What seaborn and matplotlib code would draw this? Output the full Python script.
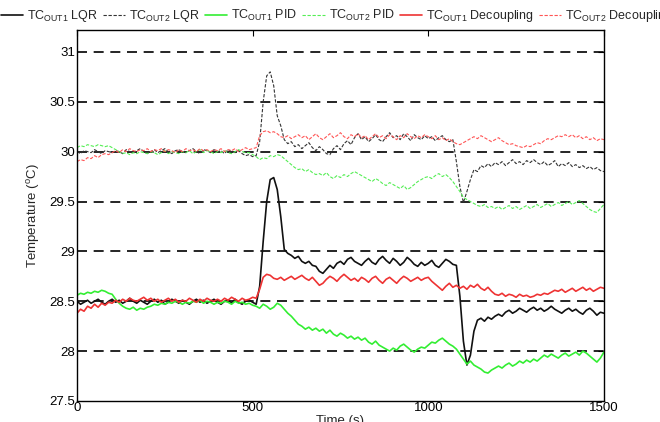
import numpy as np
import pandas as pd
import matplotlib
matplotlib.use("Agg")
import matplotlib.pyplot as plt
import seaborn as sns

time_s = list(range(0, 1501, 10))

tc1_lqr = [
    28.50, 28.47, 28.49, 28.51, 28.48, 28.50, 28.52, 28.49, 28.47, 28.50,
    28.52, 28.49, 28.51, 28.48, 28.50, 28.53, 28.50, 28.48, 28.51, 28.49,
    28.47, 28.50, 28.52, 28.49, 28.51, 28.47, 28.49, 28.52, 28.50, 28.48,
    28.51, 28.49, 28.47, 28.50, 28.52, 28.49, 28.51, 28.48, 28.50, 28.52,
    28.49, 28.47, 28.50, 28.51, 28.48, 28.52, 28.49, 28.47, 28.50, 28.51,
    28.49, 28.47, 28.65, 29.10, 29.50, 29.72, 29.74, 29.62, 29.35, 29.02,
    28.98, 28.96, 28.93, 28.95, 28.90, 28.88, 28.90, 28.86, 28.85, 28.80,
    28.78, 28.82, 28.86, 28.83, 28.88, 28.90, 28.87, 28.92, 28.94, 28.90,
    28.88, 28.86, 28.90, 28.93, 28.89, 28.87, 28.92, 28.95, 28.91, 28.88,
    28.93, 28.90, 28.86, 28.89, 28.94, 28.91, 28.87, 28.85, 28.89, 28.86,
    28.88, 28.91, 28.86, 28.84, 28.88, 28.92, 28.90, 28.87, 28.86, 28.55,
    28.10, 27.86, 27.96, 28.20, 28.31, 28.33, 28.30, 28.34, 28.32, 28.35,
    28.37, 28.35, 28.39, 28.41, 28.38, 28.40, 28.43, 28.41, 28.39, 28.42,
    28.44, 28.41, 28.43, 28.40, 28.42, 28.45, 28.42, 28.40, 28.38, 28.41,
    28.43, 28.40, 28.42, 28.39, 28.37, 28.41, 28.43, 28.40, 28.36, 28.39,
    28.38]

tc2_lqr = [
    30.00, 29.98, 30.01, 30.00, 29.99, 30.02, 30.00, 29.98, 30.01, 30.00,
    29.99, 30.01, 30.00, 29.98, 30.02, 30.00, 29.99, 30.01, 30.03, 30.00,
    29.98, 30.00, 30.02, 29.99, 30.01, 30.03, 30.00, 29.98, 30.01, 30.02,
    30.00, 29.99, 30.01, 30.03, 30.00, 29.98, 30.02, 30.01, 29.99, 30.02,
    30.00, 30.01, 29.98, 30.02, 30.00, 29.99, 30.01, 29.98, 29.96, 29.97,
    29.95, 29.96, 30.10, 30.50, 30.76, 30.80, 30.66, 30.36, 30.26, 30.12,
    30.08, 30.10, 30.05, 30.07, 30.03, 30.06, 30.09, 30.04, 30.01, 30.05,
    30.02, 29.98, 29.97, 30.03, 30.06, 30.02, 30.08, 30.11, 30.07, 30.14,
    30.18, 30.12, 30.15, 30.10, 30.13, 30.17, 30.12, 30.10, 30.15, 30.19,
    30.14, 30.16, 30.12, 30.18, 30.15, 30.11, 30.17, 30.14, 30.12, 30.16,
    30.13, 30.15, 30.11, 30.14, 30.16, 30.12, 30.10, 30.12, 29.90, 29.65,
    29.49, 29.60, 29.72, 29.82, 29.80, 29.86, 29.84, 29.88, 29.85, 29.89,
    29.87, 29.90, 29.86, 29.89, 29.92, 29.88, 29.90, 29.87, 29.91, 29.89,
    29.92, 29.89, 29.87, 29.90, 29.86, 29.88, 29.91, 29.85, 29.88, 29.86,
    29.89, 29.85, 29.87, 29.84, 29.86, 29.83, 29.85, 29.82, 29.84, 29.81,
    29.80]

tc1_pid = [
    28.56, 28.58, 28.57, 28.59, 28.58, 28.60, 28.59, 28.61, 28.60, 28.58,
    28.57, 28.52, 28.48, 28.45, 28.43, 28.42, 28.44, 28.41, 28.43, 28.42,
    28.44, 28.45, 28.47, 28.46, 28.48, 28.47, 28.49, 28.48, 28.50, 28.49,
    28.47, 28.49, 28.48, 28.50, 28.49, 28.51, 28.48, 28.50, 28.49, 28.47,
    28.49, 28.48, 28.50, 28.49, 28.47, 28.50, 28.48, 28.49, 28.47, 28.48,
    28.46, 28.45, 28.43, 28.47, 28.45, 28.42, 28.44, 28.48, 28.46, 28.42,
    28.38, 28.35, 28.31, 28.27, 28.25, 28.22, 28.24, 28.21, 28.23, 28.20,
    28.22, 28.18, 28.21, 28.17, 28.15, 28.18, 28.16, 28.13, 28.15, 28.12,
    28.14, 28.11, 28.13, 28.09, 28.07, 28.10, 28.06, 28.04, 28.02, 28.00,
    28.03, 28.01, 28.05, 28.07, 28.04, 28.01, 27.99, 28.02, 28.04, 28.03,
    28.06, 28.09, 28.08, 28.11, 28.13, 28.10, 28.07, 28.05, 28.02, 27.97,
    27.92, 27.87, 27.90, 27.86, 27.84, 27.82, 27.79, 27.78, 27.81, 27.83,
    27.85, 27.83, 27.86, 27.88, 27.85, 27.87, 27.90, 27.88, 27.91, 27.89,
    27.92, 27.90, 27.93, 27.96, 27.94, 27.97, 27.95, 27.93, 27.96, 27.98,
    27.95, 27.97, 27.99, 27.96, 28.00, 27.98, 27.95, 27.92, 27.89, 27.93,
    27.99]

tc2_pid = [
    30.04, 30.06, 30.05, 30.07, 30.06, 30.05, 30.07, 30.06, 30.05, 30.06,
    30.04, 30.02, 30.00, 29.98, 29.99, 29.97, 29.99, 29.98, 30.00, 29.99,
    29.98, 30.00, 29.99, 29.97, 29.99, 30.01, 29.98, 30.00, 29.99, 29.98,
    30.00, 29.99, 30.01, 29.98, 30.00, 30.02, 29.99, 30.01, 30.00, 29.98,
    30.00, 29.99, 30.01, 29.99, 29.98, 30.00, 30.02, 30.00, 29.99, 29.99,
    29.97, 29.95, 29.92, 29.94, 29.93, 29.96, 29.95, 29.97, 29.96, 29.93,
    29.90, 29.87, 29.84, 29.82, 29.83, 29.80, 29.82, 29.79, 29.77, 29.78,
    29.76, 29.79, 29.75, 29.73, 29.76, 29.74, 29.77, 29.75, 29.78, 29.80,
    29.78, 29.76, 29.74, 29.72, 29.70, 29.73, 29.71, 29.68, 29.66, 29.69,
    29.67, 29.65, 29.63, 29.66, 29.62, 29.64, 29.67, 29.70, 29.72, 29.74,
    29.75, 29.73, 29.76, 29.78, 29.75, 29.77, 29.74, 29.70, 29.65, 29.60,
    29.54, 29.52, 29.50, 29.48, 29.46, 29.45, 29.47, 29.44, 29.45, 29.43,
    29.45, 29.42, 29.44, 29.46, 29.43, 29.45, 29.42, 29.44, 29.46, 29.43,
    29.45, 29.47, 29.44, 29.46, 29.48, 29.45, 29.47, 29.49, 29.46, 29.48,
    29.50, 29.47, 29.49, 29.51, 29.48, 29.45, 29.42, 29.40, 29.39, 29.43,
    29.47]

tc1_dec = [
    28.38, 28.42, 28.40, 28.45, 28.43, 28.47, 28.44, 28.48, 28.46, 28.49,
    28.48, 28.51, 28.49, 28.52, 28.50, 28.53, 28.51, 28.50, 28.52, 28.54,
    28.51, 28.53, 28.50, 28.52, 28.49, 28.51, 28.53, 28.50, 28.52, 28.49,
    28.51, 28.50, 28.53, 28.51, 28.49, 28.52, 28.50, 28.53, 28.51, 28.50,
    28.52, 28.50, 28.53, 28.51, 28.54, 28.52, 28.50, 28.53, 28.51, 28.52,
    28.54, 28.53, 28.62, 28.74, 28.77, 28.76, 28.73, 28.72, 28.74, 28.71,
    28.73, 28.75, 28.72, 28.74, 28.76, 28.73, 28.71, 28.74, 28.70, 28.66,
    28.68, 28.72, 28.75, 28.73, 28.70, 28.74, 28.77, 28.74, 28.71, 28.73,
    28.70, 28.74, 28.72, 28.69, 28.73, 28.75, 28.71, 28.68, 28.72, 28.74,
    28.71, 28.68, 28.72, 28.75, 28.73, 28.70, 28.72, 28.74, 28.71, 28.73,
    28.74, 28.70, 28.67, 28.64, 28.61, 28.65, 28.68, 28.64, 28.66, 28.63,
    28.65, 28.62, 28.66, 28.64, 28.67, 28.63, 28.61, 28.64, 28.60, 28.57,
    28.56, 28.58, 28.55, 28.57, 28.56, 28.54, 28.57, 28.55, 28.56, 28.54,
    28.55, 28.57, 28.56, 28.58, 28.57, 28.59, 28.61, 28.60, 28.62, 28.59,
    28.61, 28.63, 28.60, 28.62, 28.64, 28.61, 28.63, 28.60, 28.62, 28.64,
    28.63]

tc2_dec = [
    29.90, 29.92, 29.91, 29.94, 29.93, 29.96, 29.94, 29.97, 29.98, 29.97,
    29.99, 30.01, 29.99, 30.02, 30.00, 30.03, 30.01, 30.00, 30.02, 30.01,
    30.03, 30.00, 30.02, 30.01, 30.03, 30.00, 30.02, 30.01, 29.99, 30.02,
    30.00, 30.03, 30.01, 30.02, 30.00, 30.03, 30.01, 30.02, 30.00, 30.02,
    30.01, 30.03, 30.00, 30.02, 30.01, 30.03, 30.00, 30.02, 30.04, 30.02,
    30.03, 30.04, 30.16, 30.20, 30.21, 30.19, 30.20, 30.18, 30.15, 30.14,
    30.16, 30.13, 30.15, 30.17, 30.14, 30.16, 30.12, 30.15, 30.18, 30.14,
    30.12, 30.15, 30.18, 30.14, 30.16, 30.19, 30.15, 30.13, 30.17, 30.15,
    30.18, 30.14, 30.16, 30.12, 30.15, 30.18, 30.14, 30.16, 30.13, 30.17,
    30.15, 30.12, 30.16, 30.14, 30.18, 30.15, 30.13, 30.16, 30.14, 30.17,
    30.15, 30.13, 30.16, 30.12, 30.14, 30.11, 30.13, 30.10, 30.08, 30.07,
    30.09, 30.11, 30.13, 30.15, 30.13, 30.16, 30.14, 30.12, 30.10, 30.12,
    30.14, 30.11, 30.09, 30.07, 30.08, 30.06, 30.05, 30.04, 30.06, 30.05,
    30.07, 30.09, 30.08, 30.11, 30.13, 30.12, 30.14, 30.16, 30.15, 30.17,
    30.15, 30.17, 30.14, 30.16, 30.13, 30.15, 30.12, 30.14, 30.11, 30.13,
    30.12]

series_labels = [
    r"TC$_{\mathrm{OUT1}}$ LQR", r"TC$_{\mathrm{OUT2}}$ LQR",
    r"TC$_{\mathrm{OUT1}}$ PID", r"TC$_{\mathrm{OUT2}}$ PID",
    r"TC$_{\mathrm{OUT1}}$ Decoupling", r"TC$_{\mathrm{OUT2}}$ Decoupling",
]
series_values = [tc1_lqr, tc2_lqr, tc1_pid, tc2_pid, tc1_dec, tc2_dec]
y_ticks = [27.5, 28, 28.5, 29, 29.5, 30, 30.5, 31]
y_tick_labels = ["27.5", "28", "28.5", "29", "29.5", "30", "30.5", "31"]
x_ticks = [0, 500, 1000, 1500]

colors = ["#111111", "#333333", "#33ee33", "#55ee55", "#ee3333", "#ff5555"]
styles = ["-", (0, (3, 1.5)), "-", (0, (3, 1.5)), "-", (0, (3, 1.5))]
widths = [1.2, 0.8, 1.2, 0.8, 1.2, 0.8]

sns.set_style("white")
plt.rcParams["font.family"] = ["Liberation Sans", "DejaVu Sans"]
plt.rcParams["mathtext.fontset"] = "custom"
plt.rcParams["mathtext.rm"] = "Liberation Sans"
plt.rcParams["mathtext.it"] = "Liberation Sans"

fig = plt.figure(figsize=(6.6, 4.22), dpi=100)
ax = fig.add_axes([0.1167, 0.0498, 0.7983, 0.8792])

for lab, vals, c, ls, lw in zip(series_labels, series_values, colors, styles, widths):
    df = pd.DataFrame({"t": time_s, "v": vals})
    sns.lineplot(data=df, x="t", y="v", ax=ax, color=c, linestyle=ls,
                 linewidth=lw, label=lab, legend=False)

ax.set_xlim(0, 1500)
ax.set_ylim(27.5, 31.22)
ax.set_xticks(x_ticks)
ax.set_yticks(y_ticks)
ax.set_yticklabels(y_tick_labels)
for yv in y_ticks[1:]:
    ax.axhline(yv, color="black", linestyle=(0, (6, 4)), linewidth=1.2, zorder=0.5)

ax.tick_params(direction="in", length=4, width=0.8, labelsize=9.5, colors="black",
               top=True, right=True, pad=1.5)
ax.tick_params(axis="x", pad=0.5)
for s in ax.spines.values():
    s.set_color("black")
    s.set_linewidth(1.0)

ax.set_xlabel("Time (s)", fontsize=9.5, labelpad=1)
ax.set_ylabel("Temperature ($^{\\mathrm{o}}$C)", fontsize=9.5, labelpad=5)

handles, labels = ax.get_legend_handles_labels()
fig.legend(handles, labels, loc="center", bbox_to_anchor=(0.51, 0.962), ncol=6,
           frameon=False, fontsize=9, handlelength=1.8, handletextpad=0.3,
           columnspacing=0.4)

fig.savefig("out.png", dpi=100)
